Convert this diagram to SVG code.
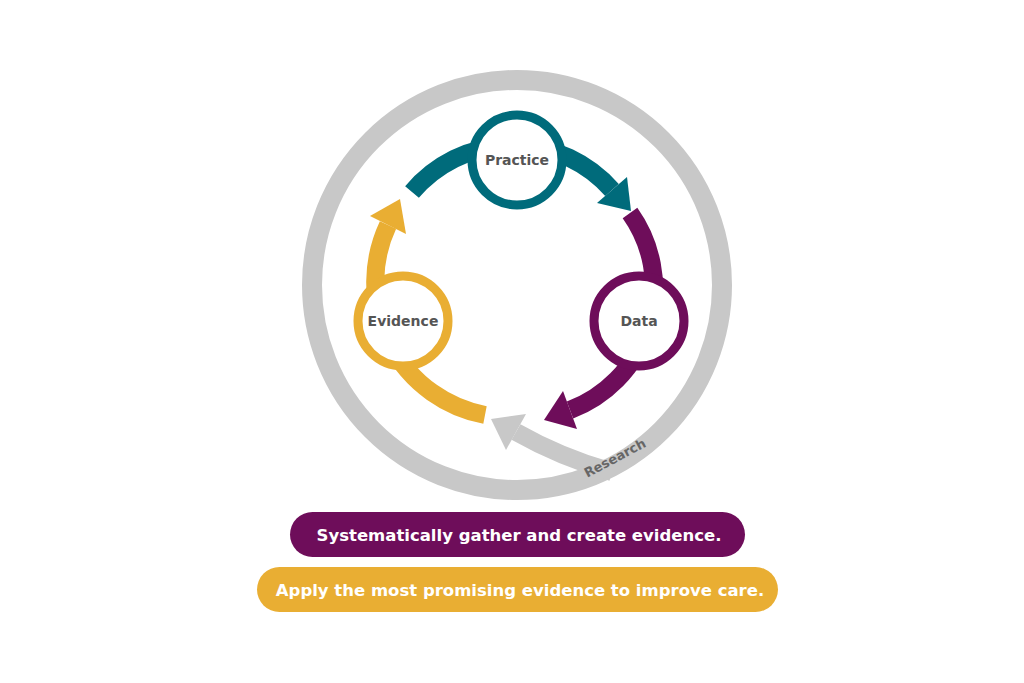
<svg xmlns="http://www.w3.org/2000/svg" width="1024" height="683" viewBox="0 0 1024 683">
<style>
.arc{fill:none;stroke-width:18}
.node{fill:#fff;stroke-width:9}
.lbl{font-family:"DejaVu Sans","Liberation Sans",sans-serif;font-weight:bold;font-size:14px;fill:#555;text-anchor:middle}
.ban{font-family:"DejaVu Sans","Liberation Sans",sans-serif;font-weight:bold;font-size:16.5px;fill:#fff;text-anchor:middle}
</style>
<rect width="1024" height="683" fill="#fff"/>
<circle cx="517" cy="285" r="205" fill="none" stroke="#c8c8c8" stroke-width="20"/>
<g id="connectors">
<path class="arc" stroke="#c8c8c8" d="M612,472 Q560,457 516,432"/>
<polygon fill="#c8c8c8" points="526,414 506,450 491,419"/>
<path class="arc" stroke="#006b7b" d="M412,192 A132 132 0 0 1 612,190"/>
<polygon fill="#006b7b" points="627,177 597,203 631,211"/>
<path class="arc" stroke="#6e0d5a" d="M630,213 A130 130 0 0 1 570,410"/>
<polygon fill="#6e0d5a" points="577,429 563,391 544,420"/>
<path class="arc" stroke="#e9ae33" d="M485,415 A135 135 0 0 1 388,225"/>
<polygon fill="#e9ae33" points="370,216 406,234 400,199"/>
</g>
<g id="practice"><circle class="node" cx="517" cy="160" r="45" stroke="#006b7b"/><text class="lbl" x="517" y="165">Practice</text></g>
<g id="data"><circle class="node" cx="639" cy="321" r="45" stroke="#6e0d5a"/><text class="lbl" x="639" y="326">Data</text></g>
<g id="evidence"><circle class="node" cx="403" cy="321" r="45" stroke="#e9ae33"/><text class="lbl" x="403" y="326">Evidence</text></g>
<text class="lbl" style="font-size:13px;fill:#666" transform="translate(617,462) rotate(-28)">Research</text>
<g id="banner1"><rect x="290" y="512" width="455" height="45" rx="22.5" fill="#6e0d5a"/><text class="ban" x="519" y="541">Systematically gather and create evidence.</text></g>
<g id="banner2"><rect x="257" y="567" width="521" height="45" rx="22.5" fill="#e9ae33"/><text class="ban" x="520" y="596">Apply the most promising evidence to improve care.</text></g>
</svg>
